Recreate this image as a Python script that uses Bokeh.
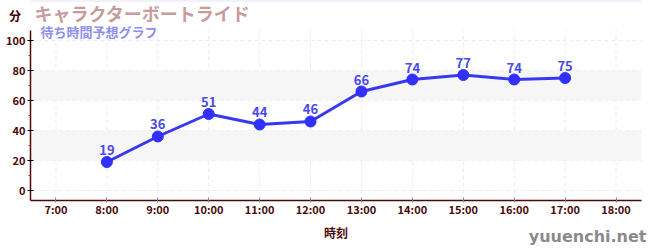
from bokeh.plotting import figure
from bokeh.models import (ColumnDataSource, FixedTicker, BoxAnnotation, Label, Range1d,
                          Title, Span)
from bokeh.core.properties import value
from bokeh.embed import file_html
from bokeh.resources import INLINE

hours = [8, 9, 10, 11, 12, 13, 14, 15, 16, 17]
waits = [19, 36, 51, 44, 46, 66, 74, 77, 74, 75]
tick_hours = [7, 8, 9, 10, 11, 12, 13, 14, 15, 16, 17, 18]
tick_labels = ["%d:00" % h for h in tick_hours]
y_ticks = [0, 20, 40, 60, 80, 100]
y_minor = [10, 30, 50, 70, 90]
bands = [(20, 40), (60, 80)]

title = "キャラクターボートライド"
subtitle = "待ち時間予想グラフ"
unit = "分"
xlabel = "時刻"
site = "yuuenchi.net"

JP = "Noto Sans CJK JP"
MAROON = "#4a0a0a"

# plotted value span, and the extra head-room used for the titles
y_lo, y_hi, y_top = -6.667, 106.667, 126.667

p = figure(width=650, height=250, output_backend="svg", toolbar_location=None,
           x_range=Range1d(6.5, 18.5), y_range=Range1d(y_lo, y_top),
           min_border_left=30, min_border_right=9, min_border_top=0, min_border_bottom=50,
           outline_line_color=None, background_fill_color="white", border_fill_color="white")

for b0, b1 in bands:
    p.add_layout(BoxAnnotation(bottom=b0, top=b1, fill_color="#f6f6f6", fill_alpha=1.0,
                               line_color=None, level="underlay"))

p.add_layout(Span(location=y_top, dimension="width", line_color="#e4e4fa", line_width=2))

p.xaxis.ticker = FixedTicker(ticks=tick_hours)
p.xaxis.major_label_overrides = {h: l for h, l in zip(tick_hours, tick_labels)}
p.yaxis.ticker = FixedTicker(ticks=y_ticks, minor_ticks=y_minor)
p.yaxis.bounds = (y_lo, y_hi)

p.xgrid.visible = False
p.ygrid.ticker = FixedTicker(ticks=y_ticks)
p.ygrid.grid_line_color = "#ebebeb"
p.ygrid.grid_line_dash = "4 3"
p.ygrid.grid_line_width = 1
p.segment(x0=tick_hours, x1=tick_hours, y0=[y_lo] * len(tick_hours), y1=[y_hi] * len(tick_hours),
          line_color="#ebebeb", line_dash="4 3", line_width=1, level="underlay")

for ax in (p.xaxis, p.yaxis):
    ax.axis_line_color = MAROON
    ax.axis_line_width = 1.5
    ax.major_label_text_color = MAROON
    ax.major_label_text_font = JP
    ax.major_label_text_font_style = "bold"
    ax.major_label_text_font_size = "11px"

p.xaxis.major_tick_line_color = "#888888"
p.xaxis.major_tick_in = 3
p.xaxis.major_tick_out = 2
p.xaxis.minor_tick_line_color = None
p.xaxis.major_label_standoff = -2
p.xaxis.axis_label = xlabel
p.xaxis.axis_label_text_font = JP
p.xaxis.axis_label_text_font_style = "bold"
p.xaxis.axis_label_text_font_size = "12px"
p.xaxis.axis_label_text_color = MAROON
p.xaxis.axis_label_standoff = 4

p.yaxis.major_tick_line_color = "black"
p.yaxis.major_tick_in = 3
p.yaxis.major_tick_out = 3
p.yaxis.minor_tick_line_color = "#dd2222"
p.yaxis.minor_tick_in = 0
p.yaxis.minor_tick_out = 2
p.yaxis.major_label_standoff = 2
p.yaxis.axis_label = "\n\n" + unit
p.yaxis.axis_label_orientation = "horizontal"
p.yaxis.axis_label_align = "end"
p.yaxis.axis_label_standoff = -18
p.yaxis.axis_label_text_font = JP
p.yaxis.axis_label_text_font_style = "bold"
p.yaxis.axis_label_text_font_size = "12px"
p.yaxis.axis_label_text_line_height = 0.9
p.yaxis.axis_label_text_color = "#3a0000"

p.add_layout(Title(text=site, align="right", offset=-5, standoff=-34, vertical_align="top",
                   text_font="DejaVu Sans", text_font_style="bold", text_font_size="16px",
                   text_color="#8a8a8a"), "below")

src = ColumnDataSource(dict(x=hours, y=waits, t=[str(v) for v in waits]))
p.line("x", "y", source=src, line_color="#3838f0", line_width=3)
p.scatter("x", "y", source=src, size=11, fill_color="#3030ff", line_color="#3030ff")
p.text("x", "y", text="t", source=src, text_align="center", text_baseline="bottom",
       y_offset=-7, text_font=value(JP), text_font_style="bold", text_font_size="13px",
       text_color="#4a4ae6")

p.add_layout(Label(x=34, y=12, x_units="canvas", y_units="canvas", text=title,
                   text_font=JP, text_font_style="bold", text_font_size="18px",
                   text_color="#c79c9c", text_baseline="middle"))
p.add_layout(Label(x=40, y=31, x_units="canvas", y_units="canvas", text=subtitle,
                   text_font=JP, text_font_style="bold", text_font_size="13px",
                   text_color="#8f8ff0", text_baseline="middle"))

open("out.html", "w").write(file_html(p, INLINE))
